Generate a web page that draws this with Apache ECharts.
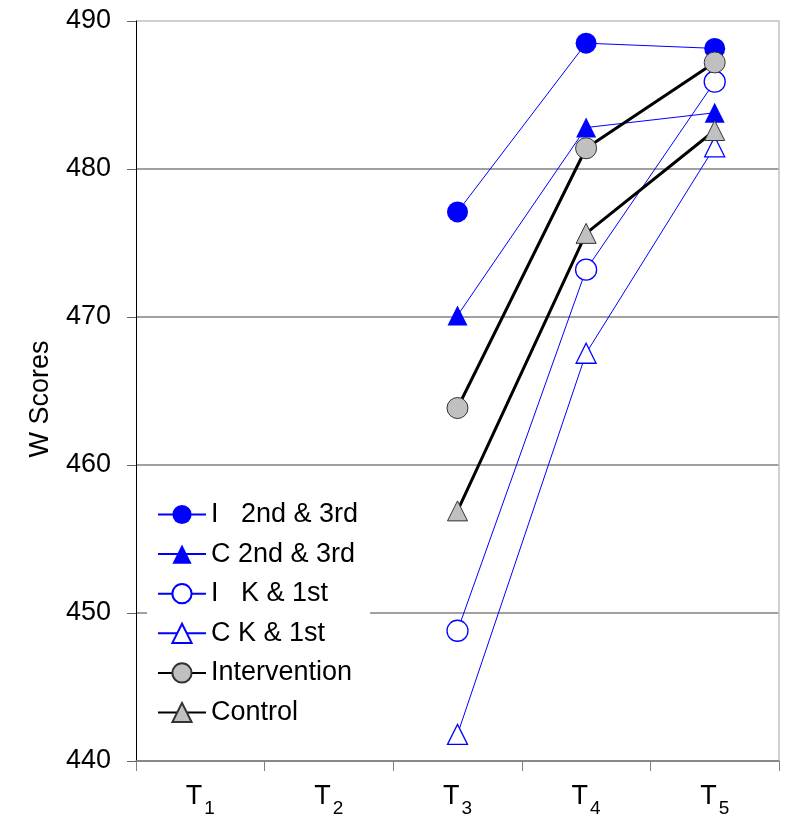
<!DOCTYPE html>
<html>
<head>
<meta charset="utf-8">
<script src="https://cdn.jsdelivr.net/npm/echarts@6/dist/echarts.min.js"></script>
<style>html,body{margin:0;padding:0;background:#fff;}#c{width:800px;height:834px;}</style>
</head>
<body>
<div id="c"></div>
<script>
var categories = ['T1', 'T2', 'T3', 'T4', 'T5'];
var yTicks = [440, 450, 460, 470, 480, 490];
var seriesNames = ['I   2nd & 3rd', 'C 2nd & 3rd', 'I   K & 1st', 'C K & 1st', 'Intervention', 'Control'];
var i23 = [null, null, 477.1, 488.5, 488.15];
var c23 = [null, null, 470.1, 482.8, 483.8];
var ik1 = [null, null, 448.8, 473.2, 485.9];
var ck1 = [null, null, 441.8, 467.55, 481.5];
var interv = [null, null, 463.85, 481.4, 487.2];
var control = [null, null, 456.9, 475.65, 482.6];

var FONT = 'Liberation Sans, Arial, sans-serif';
var chart = echarts.init(document.getElementById('c'), null, {renderer: 'canvas'});

function blueSeries(name, data, symbol, filled) {
  return {
    name: name, type: 'line', data: data, symbol: symbol, symbolSize: symbol === 'circle' ? 21 : 20,
    lineStyle: {color: '#0000ff', width: 1},
    itemStyle: filled ? {color: '#0000ff', borderWidth: 0} : {color: '#ffffff', borderColor: '#0000ff', borderWidth: 1.3},
    emphasis: {disabled: true}, animation: false, connectNulls: false
  };
}
function blackSeries(name, data, symbol) {
  return {
    name: name, type: 'line', data: data, symbol: symbol, symbolSize: symbol === 'circle' ? 21 : 20,
    lineStyle: {color: '#000000', width: 3},
    itemStyle: {color: '#c0c0c0', borderColor: '#333333', borderWidth: 1},
    emphasis: {disabled: true}, animation: false
  };
}

var option = {
  backgroundColor: '#ffffff',
  animation: false,
  textStyle: {fontFamily: FONT},
  grid: {left: 136, right: 21, top: 21, bottom: 73, containLabel: false},
  legend: {
    orient: 'vertical', left: 147, top: 491,
    backgroundColor: '#ffffff',
    padding: [10, 12, 10, 10],
    itemWidth: 48, itemHeight: 24, itemGap: 12.6,
    textStyle: {fontSize: 27, color: '#000', fontFamily: FONT},
    data: seriesNames
  },
  xAxis: {
    type: 'category', data: categories, boundaryGap: true,
    axisLine: {lineStyle: {color: '#808080', width: 1.5}},
    axisTick: {show: true, length: 10, lineStyle: {color: '#808080', width: 1}},
    axisLabel: {
      margin: 22, color: '#000',
      formatter: function (v) { return '{t|' + v.charAt(0) + '}{s|' + v.slice(1) + '}'; },
      rich: {
        t: {fontSize: 27, lineHeight: 27, verticalAlign: 'top', fontFamily: FONT, color: '#000'},
        s: {fontSize: 19, lineHeight: 19, padding: [16, 0, 0, 2], verticalAlign: 'top', fontFamily: FONT, color: '#000'}
      }
    },
    splitLine: {show: false}
  },
  yAxis: [{
    type: 'value', min: yTicks[0], max: yTicks[yTicks.length - 1], interval: 10,
    name: 'W Scores', nameLocation: 'middle', nameRotate: 90, nameGap: 82,
    nameTextStyle: {fontSize: 27, color: '#000', fontFamily: FONT, padding: [0, 16, 0, 0]},
    axisLine: {show: true, lineStyle: {color: '#000', width: 1}},
    axisTick: {show: true, inside: false, length: 9, lineStyle: {color: '#666', width: 1}},
    axisLabel: {fontSize: 27, color: '#000', margin: 25, fontFamily: FONT},
    splitLine: {show: true, lineStyle: {color: ['#808080', '#808080', '#808080', '#808080', '#808080', '#c0c0c0'], width: 1.5}}
  }, {
    type: 'value', min: yTicks[0], max: yTicks[yTicks.length - 1], interval: 10, position: 'right',
    axisLine: {show: true, lineStyle: {color: '#c0c0c0', width: 1.5}},
    axisTick: {show: false}, axisLabel: {show: false}, splitLine: {show: false}
  }],
  series: [
    blueSeries(seriesNames[0], i23, 'circle', true),
    blueSeries(seriesNames[1], c23, 'triangle', true),
    blueSeries(seriesNames[2], ik1, 'circle', false),
    blueSeries(seriesNames[3], ck1, 'triangle', false),
    blackSeries(seriesNames[4], interv, 'circle'),
    blackSeries(seriesNames[5], control, 'triangle')
  ]
};
chart.setOption(option);
</script>
</body>
</html>
